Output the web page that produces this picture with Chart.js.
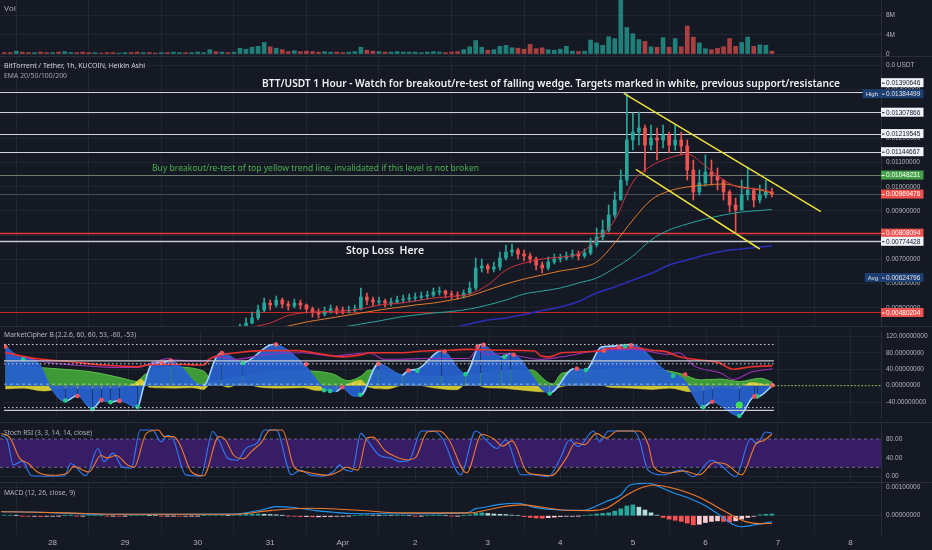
<!DOCTYPE html>
<html><head><meta charset="utf-8"><title>BTT/USDT 1h</title>
<script src="https://cdn.jsdelivr.net/npm/chart.js@4.4.1/dist/chart.umd.min.js"></script>
<style>
html,body{margin:0;padding:0;background:#2a2e39;overflow:hidden}
#wrap{position:relative;width:932px;height:550px;background:#2a2e39;overflow:hidden}
canvas{position:absolute;left:0;display:block}
</style></head><body>
<div id="wrap">
<canvas id="cVol" style="top:0px"></canvas>
<canvas id="cPrice" style="top:57px"></canvas>
<canvas id="cMC" style="top:327px"></canvas>
<canvas id="cStoch" style="top:423px"></canvas>
<canvas id="cMACD" style="top:483px"></canvas>
</div>
<script>
// ---------------- DATA (hours counted from 28 Mar 00:00) ----------------
const dayTickHours = [0,24,48,72,96,120,144,168,192,216,240,264];
const dayLabels = ['28','29','30','31','Apr','2','3','4','5','6','7','8'];
const volTicks = [0,4000000,8000000];

const barHours = [-16,-14,-12,-10,-8,-6,-4,-2,0,2,4,6,8,10,12,14,16,18,20,22,24,26,28,30,32,34,36,38,40,42,44,46,48,50,52,54,56,58,60,62,64,66,68,70,72,74,76,78,80,82,84,86,88,90,92,94,96,98,100,102,104,106,108,110,112,114,116,118,120,122,124,126,128,130,132,134,136,138,140,142,144,146,148,150,152,154,156,158,160,162,164,166,168,170,172,174,176,178,180,182,184,186,188,190,192,194,196,198,200,202,204,206,208,210,212,214,216,218,220,222,224,226,228,230,232,234,236,238];
const volume = [300000,300000,600000,400000,300000,300000,400000,300000,300000,400000,500000,300000,300000,400000,300000,300000,200000,300000,300000,200000,300000,300000,400000,300000,300000,200000,300000,300000,400000,300000,300000,300000,400000,300000,900000,500000,400000,300000,400000,
1200000,1000000,1400000,1600000,2400000,1500000,1200000,900000,500000,700000,
500000,600000,500000,400000,500000,400000,400000,300000,400000,500000,
1400000,800000,600000,500000,400000,400000,500000,400000,400000,400000,
300000,400000,500000,400000,300000,400000,500000,900000,1500000,2800000,
1400000,800000,900000,1600000,1800000,1300000,1200000,1000000,2000000,1100000,
1300000,900000,800000,1000000,1600000,600000,500000,600000,2900000,2300000,
1800000,3600000,3200000,11500000,5500000,4200000,3000000,2600000,1500000,1400000,
3400000,1400000,3200000,1500000,5800000,3500000,2300000,1100000,900000,1200000,
1500000,3200000,1600000,2400000,3500000,1600000,1900000,1800000,600000];
const earlyVolUp = [0,0,1,0,0,1,0,0,1,0,1,1,0,0,0,1,0,0,0,1,1,0,0,1,0,0,1,0,1,1,0,1,1,1,1,0,1,0,1];

const candleHours = [62,64,66,68,70,72,74,76,78,80,82,84,86,88,90,92,94,96,98,100,102,104,106,108,110,112,114,116,118,120,122,124,126,128,130,132,134,136,138,140,142,144,146,148,150,152,154,156,158,160,162,164,166,168,170,172,174,176,178,180,182,184,186,188,190,192,194,196,198,200,202,204,206,208,210,212,214,216,218,220,222,224,226,228,230,232,234,236,238];
const candleOpen = [0.004161,0.004244,0.004368,0.004575,0.004905,0.005194,0.005112,0.005318,0.005153,0.005071,0.005194,0.005112,0.004947,0.004823,0.004740,0.004864,0.004947,0.004905,0.004864,0.004905,0.004947,0.005442,0.005318,0.005236,0.005277,0.005194,0.005236,0.005318,0.005360,0.005401,0.005442,0.005484,0.005525,0.005649,0.005690,0.005566,0.005525,0.005484,0.005608,0.005814,0.006641,0.006723,0.006599,0.006682,0.007054,0.007302,0.007384,0.007219,0.007137,0.007013,0.006765,0.006641,0.006889,0.007013,0.007054,0.007137,0.007219,0.007137,0.007260,0.007591,0.007922,0.008211,0.008831,0.009450,0.010277,0.011930,0.012260,0.012426,0.011723,0.012012,0.011930,0.012136,0.011723,0.011930,0.011682,0.010690,0.009781,0.010153,0.010607,0.010442,0.010277,0.009781,0.009244,0.009037,0.009657,0.009864,0.009450,0.009657,0.009781];
const candleHigh = [0.004327,0.004575,0.004823,0.005112,0.005401,0.005318,0.005484,0.005401,0.005277,0.005360,0.005318,0.005153,0.005029,0.004947,0.005029,0.005112,0.005071,0.005029,0.005071,0.005112,0.005814,0.005608,0.005442,0.005442,0.005360,0.005401,0.005484,0.005525,0.005566,0.005608,0.005649,0.005690,0.005814,0.005856,0.005732,0.005690,0.005649,0.005732,0.006062,0.007054,0.007013,0.006806,0.006889,0.007302,0.007591,0.007632,0.007467,0.007384,0.007260,0.007095,0.006889,0.007095,0.007219,0.007219,0.007302,0.007384,0.007343,0.007426,0.007880,0.008293,0.008624,0.009244,0.009781,0.010690,0.013845,0.013045,0.013087,0.012549,0.012549,0.012426,0.012549,0.012260,0.012549,0.012260,0.011930,0.011103,0.010690,0.011310,0.011103,0.010773,0.010277,0.009864,0.009533,0.010277,0.010814,0.009946,0.010070,0.010277,0.009946];
const candleLow = [0.004161,0.004244,0.004327,0.004492,0.004823,0.004905,0.005029,0.004988,0.004905,0.004988,0.004947,0.004781,0.004616,0.004575,0.004657,0.004781,0.004740,0.004740,0.004781,0.004823,0.004905,0.005112,0.005071,0.005112,0.005029,0.005071,0.005153,0.005194,0.005236,0.005277,0.005318,0.005360,0.005442,0.005525,0.005401,0.005360,0.005360,0.005401,0.005525,0.005732,0.006475,0.006434,0.006475,0.006558,0.006971,0.007137,0.007013,0.006930,0.006847,0.006558,0.006434,0.006558,0.006806,0.006889,0.006971,0.007054,0.006971,0.007054,0.007178,0.007508,0.007798,0.008128,0.008707,0.009450,0.010070,0.011516,0.011723,0.010607,0.011516,0.011103,0.011599,0.011392,0.011516,0.011310,0.010277,0.009450,0.009657,0.010029,0.010070,0.009864,0.009450,0.008955,0.008087,0.009037,0.009450,0.009161,0.009326,0.009533,0.009574];
const candleClose = [0.004244,0.004368,0.004575,0.004905,0.005194,0.005112,0.005318,0.005153,0.005071,0.005194,0.005112,0.004947,0.004823,0.004740,0.004864,0.004947,0.004905,0.004864,0.004905,0.004947,0.005442,0.005318,0.005236,0.005277,0.005194,0.005236,0.005318,0.005360,0.005401,0.005442,0.005484,0.005525,0.005649,0.005690,0.005566,0.005525,0.005484,0.005608,0.005814,0.006641,0.006723,0.006599,0.006682,0.007054,0.007302,0.007384,0.007219,0.007137,0.007013,0.006765,0.006641,0.006889,0.007013,0.007054,0.007137,0.007219,0.007137,0.007260,0.007591,0.007922,0.008211,0.008831,0.009450,0.010277,0.011930,0.012260,0.012426,0.011723,0.012012,0.011930,0.012136,0.011723,0.011930,0.011682,0.010690,0.009781,0.010153,0.010607,0.010442,0.010277,0.009781,0.009244,0.009037,0.009657,0.009864,0.009450,0.009657,0.009781,0.009695];

const emaHours = [60,66,72,78,84,90,96,102,108,114,120,126,132,138,144,150,156,162,168,174,180,186,192,198,204,210,216,222,228,234,238];
const ema20 = [0.004079,0.004203,0.004368,0.004678,0.004802,0.004843,0.004864,0.004947,0.005112,0.005174,0.005277,0.005401,0.005463,0.005566,0.005938,0.006558,0.006847,0.007013,0.007095,0.007219,0.007798,0.008624,0.010194,0.010855,0.011186,0.011351,0.010855,0.010277,0.009946,0.009905,0.009781];
const ema50 = [0.003872,0.003955,0.004079,0.004244,0.004409,0.004533,0.004657,0.004781,0.004905,0.005009,0.005112,0.005194,0.005318,0.005484,0.005732,0.005980,0.006186,0.006351,0.006517,0.006641,0.006889,0.007674,0.008624,0.009450,0.009822,0.009988,0.010070,0.010112,0.009988,0.009864,0.009740];
const ema100 = [0.003459,0.003583,0.003748,0.003872,0.003996,0.004120,0.004203,0.004327,0.004451,0.004595,0.004699,0.004781,0.004843,0.004947,0.005112,0.005318,0.005566,0.005690,0.005814,0.006021,0.006227,0.006641,0.007137,0.007798,0.008211,0.008459,0.008665,0.008831,0.008955,0.009017,0.009058];
const ema200 = [0.002633,0.002757,0.002881,0.003004,0.003128,0.003252,0.003376,0.003500,0.003624,0.003748,0.003872,0.003996,0.004161,0.004327,0.004492,0.004575,0.004719,0.004885,0.005029,0.005256,0.005608,0.005856,0.006145,0.006413,0.006765,0.006971,0.007178,0.007343,0.007426,0.007508,0.007550];

const levelValues = [0.01390646,0.01307866,0.01219545,0.01144667,0.01048231,0.00969476,0.00808094,0.00774428,0.00480204];
const highValue = 0.01384499;
const avgValue = 0.00624796;
const wedgeTopH = [189,254.2];
const wedgeTopP = [0.013860,0.008967];
const wedgeLowH = [193,234];
const wedgeLowP = [0.010719,0.007426];

const mcWaveH = [-17,-13,-6,-2,3,7,12,15,18,21,27,29,32,35,38,42,46,49,53,55,62,72,82,88,90,93,95,99,101,107,115,117,120,128,136,141,148,151,164,172,176,181,185,191,203,208,210,215,218,227,232,233,238];
const mcWave = [96,72,55,-3,-38,-24,-56,-36,-40,-36,-52,-3,56,57,61,41,8,0,67,79,56,100,53,0,-11,-14,-5,-25,-25,53,26,37,40,85,28,100,70,78,-18,41,38,93,96,100,33,18,0,-52,-39,-73,-27,-27,0];
const mcMfiH = [-17,-8,2,12,22,27,29,39,49,52,60,69,82,92,97,101,104,115,125,137,148,158,163,165,168,181,194,203,208,214,221,227,234,238];
const mcMfi = [48,45,40,33,18,10,25,45,35,10,20,32,36,28,12,22,38,26,22,26,36,38,10,4,30,38,40,36,28,14,16,10,18,8];
const mcYellowH = [-17,-11,-4,2,12,21,26,28,31,39,45,49,52,57,62,67,75,82,87,93,97,101,104,110,117,125,133,137,143,148,155,162,168,173,179,184,191,198,204,211,214,221,226,231,236,238];
const mcYellow = [-8,-6,-13,-6,-7,-4,5,16,-4,-6,-5,-9,10,-4,8,-3,-6,-5,-12,-10,4,14,-4,-8,5,-5,-10,8,-5,-6,-11,-15,-2,4,8,-4,-6,-9,-6,-15,-12,-5,-8,8,2,0];
const mcRedH = [-17,-14,-7,5,16,27,30,39,49,51,60,69,80,87,95,102,104,115,122,131,137,148,159,161,164,168,181,183,192,198,203,207,212,220,225,231,238];
const mcRed = [80,76,66,58,50,46,50,52,50,65,80,85,85,78,70,76,80,80,84,86,88,86,84,72,70,80,84,90,92,86,82,70,64,56,40,46,48];
const mcPurpleH = [-17,-11,-4,6,16,27,32,37,39,49,53,60,69,82,92,100,104,109,115,122,137,140,143,148,161,168,181,192,198,203,207,212,221,225,231,238];
const mcPurple = [82,70,58,50,45,44,55,66,62,60,70,64,75,80,72,78,80,64,64,66,66,88,76,78,64,70,86,88,82,76,80,48,30,15,33,41];
const mcRedDotH = [-17,7,15,21,35,38,55,73,83,95,107,117,129,140,142,152,173,182,187,191,209,218,232,238];
const mcRedDotV = [95,-25,-35,-37,56,61,79,100,52,-4,53,37,83,95,99,75,41,85,94,98,27,-39,-26,1];
const mcGreenDotH = [-11,3,12,18,27,62,89,91,101,120,136,149,164,176,189,205,215,227,233];
const mcGreenDotV = [64,-36,-57,-40,-51,55,-11,-13,-22,36,28,70,-19,38,96,24,-52,-73,-26];
const mcBigDotH = [227];
const mcBigDotV = [-47];

const stochKH = [-17,-15,-13,-10,-7,-1,4,6,11,15,17,20,23,26,29,33,36,38,40,44,49,53,55,58,61,64,68,70,74,79,82,85,89,93,95,96,99,102,104,108,112,115,118,122,126,129,135,140,144,147,150,155,159,164,168,171,174,179,181,184,192,194,197,202,208,212,218,221,226,231,233,236,238];
const stochK = [88,78,25,33,2,1,2,28,2,60,32,50,21,18,99,99,74,88,78,4,1,96,78,39,35,60,74,99,99,4,14,4,1,11,25,18,11,92,78,46,39,32,35,97,97,81,4,97,74,60,78,4,4,0,39,78,64,97,74,97,97,81,14,4,14,0,35,25,0,81,70,95,92];
const stochDH = [-17,-14,-11,-8,-5,0,5,7,12,16,18,21,25,27,31,35,37,40,42,46,50,55,57,60,63,66,69,72,76,80,84,87,91,95,97,101,104,106,110,113,117,120,124,128,131,137,142,146,149,152,157,161,165,170,173,176,180,183,187,194,197,199,204,209,214,219,223,228,233,235,238];
const stochD = [92,82,40,28,10,3,8,22,10,45,40,45,24,20,92,99,85,85,70,10,2,85,80,45,38,55,72,99,99,20,10,6,3,12,20,14,82,84,55,44,36,40,95,97,80,8,90,80,65,76,10,4,2,40,72,68,92,82,97,97,70,20,8,12,4,30,26,4,72,76,90];

const macdH = [-17,-7,5,16,38,60,69,74,79,87,93,98,115,137,140,142,148,154,159,168,176,179,183,188,191,197,201,206,211,216,221,225,228,232,238];
const macdLine = [0.00014,0.00013,0.00008,0.00005,0.00005,0.00006,0.00020,0.00032,0.00030,0.00018,0.00012,0.00008,0.00007,0.00010,0.00025,0.00028,0.00040,0.00044,0.00030,0.00020,0.00019,0.00030,0.00049,0.00073,0.00108,0.00114,0.00100,0.00078,0.00060,0.00035,0.00000,-0.00030,-0.00039,-0.00033,-0.00021];
const signalH = [-17,5,20,60,72,84,100,115,138,148,155,162,170,178,183,190,194,199,204,210,215,220,225,229,234,238];
const signalLine = [0.00014,0.00010,0.00005,0.00005,0.00018,0.00026,0.00020,0.00010,0.00010,0.00030,0.00038,0.00030,0.00019,0.00018,0.00025,0.00073,0.00095,0.00108,0.00100,0.00082,0.00060,0.00030,0.00000,-0.00020,-0.00028,-0.00027];
const macdHist = [0.00002,0.00002,0.00001,-0.00001,-0.00002,-0.00002,-0.00003,-0.00002,-0.00002,-0.00001,0.00001,0.00001,-0.00001,-0.00001,0,0.00001,0.00001,-0.00001,-0.00001,-0.00002,-0.00001,0,0.00002,0.00002,0.00001,0,-0.00001,-0.00001,-0.00001,-0.00002,-0.00002,-0.00001,-0.00001,0.00001,0.00002,0.00002,0.00002,0.00001,0.00002,
0.00004,0.00005,0.00006,0.00006,0.00005,0.00004,0.00003,0.00001,-0.00001,-0.00002,
-0.00003,-0.00003,-0.00004,-0.00004,-0.00003,-0.00003,-0.00002,-0.00002,-0.00001,0,
0.00003,0.00003,0.00002,0.00001,0.00001,0,0.00001,0.00001,0,-0.00001,
-0.00001,0,0.00001,0.00001,0,-0.00001,-0.00001,0.00001,0.00003,0.00008,
0.00010,0.00008,0.00006,0.00005,0.00004,0.00002,0,-0.00003,-0.00006,-0.00008,
-0.00009,-0.00007,-0.00005,-0.00003,-0.00002,-0.00002,-0.00001,0,0.00003,0.00006,
0.00008,0.00010,0.00016,0.00024,0.00034,0.00038,0.00030,0.00020,0.00010,0.00002,
-0.00006,-0.00012,-0.00016,-0.00020,-0.00026,-0.00032,-0.00030,-0.00024,-0.00020,-0.00018,
-0.00020,-0.00022,-0.00018,-0.00012,-0.00006,-0.00002,0.00003,0.00005,0.00006];

const TITLE = 'BTT/USDT 1 Hour - Watch for breakout/re-test of falling wedge. Targets marked in white, previous support/resistance';
const BUY_NOTE = 'Buy breakout/re-test of top yellow trend line, invalidated if this level is not broken';
const STOP_NOTE = 'Stop Loss  Here';

// ---------------- STYLE / LAYOUT ----------------
const AXFONT = '"Liberation Sans", "DejaVu Sans", sans-serif';
const TXFONT = '"Noto Sans", "Liberation Sans", sans-serif';
const BG = '#151924', GRID = 'rgba(60,64,78,0.32)', SEP = '#2a2e39', TXT = '#b2b5be';
const X_MIN = -17.4, X_MAX = 274.1;
const UP = '#26a69a', DN = '#ef5350';
Chart.defaults.font.family = AXFONT;

const pts = (xs, ys) => xs.map((x, i) => ({x: x, y: ys[i]}));

function fitText(ctx, text, x, y, size, weight, color, targetW, family) {
  ctx.save();
  ctx.font = weight + ' ' + size + 'px ' + (family || TXFONT);
  const w = ctx.measureText(text).width;
  const sx = targetW ? targetW / w : 1;
  ctx.translate(x, y); ctx.scale(sx, 1);
  ctx.fillStyle = color; ctx.textBaseline = 'middle'; ctx.textAlign = 'left';
  ctx.fillText(text, 0, 0);
  ctx.restore();
}
function hline(ctx, x0, x1, y, color, w, dash) {
  ctx.save(); ctx.beginPath(); ctx.strokeStyle = color; ctx.lineWidth = w;
  ctx.setLineDash(dash || []); ctx.moveTo(x0, y); ctx.lineTo(x1, y); ctx.stroke(); ctx.restore();
}
function axisBox(ctx, x, y, text, bg, fg) {
  ctx.save();
  ctx.fillStyle = bg; ctx.fillRect(x, y - 4.5, 42.5, 9);
  ctx.strokeStyle = fg; ctx.lineWidth = 1; ctx.beginPath(); ctx.moveTo(x + 1, y + 0.5); ctx.lineTo(x + 3.5, y + 0.5); ctx.stroke();
  ctx.fillStyle = fg; ctx.font = '6.5px ' + AXFONT; ctx.textBaseline = 'middle'; ctx.textAlign = 'left';
  ctx.fillText(text, x + 5, y + 0.5);
  ctx.restore();
}
function tagBox(ctx, xRight, y, text, bg, fg) {
  ctx.save();
  ctx.font = '6px ' + AXFONT;
  const w = ctx.measureText(text).width + 6;
  ctx.fillStyle = bg; ctx.fillRect(xRight - w, y - 4.5, w, 9);
  ctx.fillStyle = fg; ctx.textBaseline = 'middle'; ctx.textAlign = 'left';
  ctx.fillText(text, xRight - w + 3, y + 0.5);
  ctx.restore();
}

const bgPlugin = {id: 'bg', beforeDraw(c) { const ctx = c.ctx; ctx.save(); ctx.fillStyle = BG; ctx.fillRect(0, 0, c.width, c.height); ctx.restore(); }};

function xAxis(show) {
  return {
    type: 'linear', min: X_MIN, max: X_MAX, offset: false,
    grid: {color: GRID, drawTicks: false, lineWidth: 1},
    border: {display: false},
    ticks: {display: show, color: TXT, font: {size: 8, family: AXFONT}, padding: 4, maxRotation: 0, autoSkip: false,
      callback: (v) => { const i = dayTickHours.indexOf(v); return i < 0 ? '' : dayLabels[i]; }},
    afterBuildTicks: (s) => { s.ticks = dayTickHours.map(v => ({value: v})); },
    afterFit: (s) => { s.height = show ? 16 : 0; s.paddingLeft = 0; s.paddingRight = 0; s.paddingTop = 0; s.paddingBottom = 0; }
  };
}
function yAxis(min, max, step, fmt, fixedTicks) {
  const ax = {
    position: 'right', min: min, max: max,
    grid: {color: GRID, drawTicks: false, lineWidth: 1},
    border: {display: true, color: SEP, width: 1},
    ticks: {stepSize: step, includeBounds: false, color: TXT, font: {size: 6.5, family: AXFONT}, padding: 5, callback: fmt},
    afterFit: (s) => { s.width = 51; s.paddingTop = 0; s.paddingBottom = 0; s.paddingLeft = 0; s.paddingRight = 0; }
  };
  if (fixedTicks) ax.afterBuildTicks = (s) => { s.ticks = fixedTicks.map(v => ({value: v})); };
  return ax;
}
function baseOptions(y, showX) {
  return {
    responsive: false, animation: false, events: [],
    layout: {padding: 0},
    plugins: {legend: {display: false}, tooltip: {enabled: false}},
    scales: {x: xAxis(showX), y: y}
  };
}
function mk(id, h, cfg) {
  const c = document.getElementById(id);
  c.width = 932; c.height = h; c.style.width = '932px'; c.style.height = h + 'px';
  return new Chart(c, cfg);
}
const lineDS = (data, color, w, order, extra) => Object.assign({type: 'line', data: data, borderColor: color, borderWidth: w, pointRadius: 0, cubicInterpolationMode: 'monotone', fill: false, order: order, clip: 0}, extra || {});

// ---------------- VOLUME ----------------
const candleUp = candleHours.map((h, i) => candleClose[i] >= candleOpen[i]);
const volColors = barHours.map((h, i) => {
  const up = i < earlyVolUp.length ? earlyVolUp[i] === 1 : candleUp[i - earlyVolUp.length];
  return up ? 'rgba(38,166,154,0.72)' : 'rgba(239,83,80,0.68)';
});
mk('cVol', 56, {
  type: 'bar',
  data: {datasets: [{type: 'bar', data: pts(barHours, volume), backgroundColor: volColors, barThickness: 4, grouped: false}]},
  options: baseOptions(yAxis(-410000, 11190000, 4000000, v => v === 0 ? '0' : Math.round(v / 1000000) + 'M', volTicks), false),
  plugins: [bgPlugin, {id: 'volDeco', afterDraw(c) { fitText(c.ctx, 'Vol', 4, 9, 7, '400', '#a3a6af', 12); }}]
});

// ---------------- PRICE ----------------
const levelStyle = [
  {c: '#d1d4dc', w: 1.2, bg: '#f0f3fa', fg: '#131722', dy: -9.5},
  {c: '#d1d4dc', w: 1.2, bg: '#f0f3fa', fg: '#131722'},
  {c: '#d1d4dc', w: 1.2, bg: '#f0f3fa', fg: '#131722'},
  {c: '#d1d4dc', w: 1.2, bg: '#f0f3fa', fg: '#131722'},
  {c: '#6f7d70', w: 1, bg: '#43a047', fg: '#ffffff'},
  {c: '#4a4e5a', w: 1, bg: '#f0504a', fg: '#ffffff'},
  {c: '#e53935', w: 1.3, bg: '#ef5350', fg: '#ffffff'},
  {c: '#c8cad0', w: 1.6, bg: '#f0f3fa', fg: '#131722'},
  {c: '#c62828', w: 1, bg: '#ef5350', fg: '#ffffff'}
];
const pricePlugin = {
  id: 'priceDeco',
  beforeDatasetsDraw(c) {
    const {ctx, chartArea: a, scales: {y}} = c;
    levelValues.forEach((v, i) => { const st = levelStyle[i]; hline(ctx, a.left, a.right, Math.round(y.getPixelForValue(v)) + 0.5, st.c, st.w); });
  },
  afterDraw(c) {
    const {ctx, chartArea: a, scales: {x, y}} = c;
    fitText(ctx, 'BitTorrent / Tether, 1h, KUCOIN, Heikin Ashi', 4, 9, 7, '400', '#d1d4dc', 141);
    fitText(ctx, 'EMA 20/50/100/200', 4, 19, 7, '400', '#a3a6af', 63);
    fitText(ctx, '0.0 USDT', a.right + 5, 8, 6.5, '400', TXT, 0, AXFONT);
    fitText(ctx, TITLE, x.getPixelForValue(69.3), y.getPixelForValue(0.014231), 10.8, '600', '#eef0f3', 578);
    fitText(ctx, BUY_NOTE, x.getPixelForValue(32.9), y.getPixelForValue(0.010731), 8, '400', '#4caf50', 327);
    fitText(ctx, STOP_NOTE, x.getPixelForValue(97.1), y.getPixelForValue(0.007355), 11, '600', '#eef0f3', 78);
    levelValues.forEach((v, i) => { const st = levelStyle[i]; axisBox(ctx, a.right, y.getPixelForValue(v) + (st.dy || 0), v.toFixed(8), st.bg, st.fg); });
    const yh = y.getPixelForValue(highValue);
    tagBox(ctx, a.right, yh, 'High', '#1d3e70', '#e0e3eb');
    axisBox(ctx, a.right, yh, highValue.toFixed(8), '#1d3e70', '#e0e3eb');
    const ya = y.getPixelForValue(avgValue);
    tagBox(ctx, a.right, ya, 'Avg', '#1d3e70', '#e0e3eb');
    axisBox(ctx, a.right, ya, avgValue.toFixed(8), '#1d3e70', '#e0e3eb');
  }
};
const candleColor = candleUp.map(u => u ? UP : DN);
mk('cPrice', 269, {
  type: 'line',
  data: {datasets: [
    lineDS(pts(wedgeTopH, wedgeTopP), '#ece23a', 1.5, 0, {cubicInterpolationMode: 'default', tension: 0}),
    lineDS(pts(wedgeLowH, wedgeLowP), '#ece23a', 1.5, 0, {cubicInterpolationMode: 'default', tension: 0}),
    lineDS(pts(emaHours, ema20), '#cf3341', 1, 1),
    lineDS(pts(emaHours, ema50), '#e07b2a', 1, 1),
    lineDS(pts(emaHours, ema100), '#26a69a', 1, 1),
    lineDS(pts(emaHours, ema200), '#2b2fb8', 1.5, 1),
    {type: 'bar', data: candleHours.map((h, i) => ({x: h, y: [Math.min(candleOpen[i], candleClose[i]), Math.max(candleOpen[i], candleClose[i])]})), backgroundColor: candleColor, barThickness: 3, grouped: false, minBarLength: 1, order: 2},
    {type: 'bar', data: candleHours.map((h, i) => ({x: h, y: [candleLow[i], candleHigh[i]]})), backgroundColor: candleColor, barThickness: 1, grouped: false, order: 3}
  ]},
  options: baseOptions(yAxis(0.004244, 0.015360, 0.001, v => v > 0.0145 ? '' : v.toFixed(8)), false),
  plugins: [bgPlugin, pricePlugin]
});

// ---------------- MARKET CIPHER B ----------------
const mcLastHour = 238.5;
const mcPlugin = {
  id: 'mcDeco',
  afterDatasetsDraw(c) {
    const {ctx, chartArea: a, scales: {x, y}} = c;
    const xr = x.getPixelForValue(mcLastHour);
    hline(ctx, a.left, xr, y.getPixelForValue(100), '#d1d4dc', 1, [1.5, 2.5]);
    hline(ctx, a.left, xr, y.getPixelForValue(60), '#c8cad0', 1.3);
    hline(ctx, a.left, xr, y.getPixelForValue(53), '#d1d4dc', 1, [1.5, 2.5]);
    hline(ctx, a.left, xr, y.getPixelForValue(-53), '#d1d4dc', 1, [1.5, 2.5]);
    hline(ctx, a.left, xr, y.getPixelForValue(-60), '#c8cad0', 1.3);
    hline(ctx, a.left, xr, y.getPixelForValue(0) - 1.5, 'rgba(255,255,255,0.5)', 1, [3, 3]);
    hline(ctx, xr, a.right, y.getPixelForValue(0), '#a5d64c', 1, [1.5, 2]);
  },
  afterDraw(c) { fitText(c.ctx, 'MarketCipher B (2.2.6, 60, 60, 53, -60, -53)', 4, 7.5, 7, '400', '#b2b5be', 132); }
};
mk('cMC', 95, {
  type: 'line',
  data: {datasets: [
    {type: 'line', data: pts(mcBigDotH, mcBigDotV), showLine: false, pointRadius: 3.5, pointBackgroundColor: '#3ee04f', pointBorderWidth: 0, order: 0},
    {type: 'line', data: pts(mcRedDotH, mcRedDotV), showLine: false, pointRadius: 2.3, pointBackgroundColor: '#f0525a', pointBorderWidth: 0, order: 0},
    {type: 'line', data: pts(mcGreenDotH, mcGreenDotV), showLine: false, pointRadius: 2.3, pointBackgroundColor: '#22c98b', pointBorderWidth: 0, order: 0},
    lineDS(pts(mcRedH, mcRed), '#e8302c', 1.6, 1),
    lineDS(pts(mcPurpleH, mcPurple), '#a030b8', 1.1, 2),
    lineDS(pts(mcWaveH, mcWave), '#2a64cc', 1.6, 3, {fill: 'origin', backgroundColor: 'rgba(38,96,204,0.95)',
      segment: {borderColor: s => s.p1.parsed.y > s.p0.parsed.y ? '#9fd2ff' : '#2a64cc'}}),
    lineDS(pts(mcYellowH, mcYellow), '#d9cd33', 0.5, 4, {fill: 'origin', backgroundColor: 'rgba(217,205,51,0.95)'}),
    lineDS(pts(mcMfiH, mcMfi), '#5cc24c', 1, 5, {fill: 'origin', backgroundColor: 'rgba(67,168,58,0.9)'})
  ]},
  options: baseOptions(yAxis(-78.44, 132.67, 40, v => v.toFixed(8)), false),
  plugins: [bgPlugin, mcPlugin]
});

// ---------------- STOCH RSI ----------------
const stochPlugin = {
  id: 'stDeco',
  beforeDatasetsDraw(c) {
    const {ctx, chartArea: a, scales: {y}} = c;
    const y80 = y.getPixelForValue(80), y20 = y.getPixelForValue(20);
    ctx.save(); ctx.fillStyle = '#371d66'; ctx.fillRect(a.left, y80, a.right - a.left, y20 - y80); ctx.restore();
    hline(ctx, a.left, a.right, y80, '#6f6a8a', 1, [3, 3]);
    hline(ctx, a.left, a.right, y20, '#6f6a8a', 1, [3, 3]);
  },
  afterDraw(c) { fitText(c.ctx, 'Stoch RSI (3, 3, 14, 14, close)', 4, 10, 7, '400', '#b2b5be', 88); }
};
mk('cStoch', 59, {
  type: 'line',
  data: {datasets: [
    lineDS(pts(stochDH, stochD), '#f07a2c', 1.1, 0),
    lineDS(pts(stochKH, stochK), '#2f7cf6', 1.1, 1)
  ]},
  options: baseOptions(yAxis(-11.25, 114.0, 40, v => v.toFixed(2)), false),
  plugins: [bgPlugin, stochPlugin]
});

// ---------------- MACD ----------------
const histColor = macdHist.map((v, i) => {
  const p = i > 0 ? macdHist[i - 1] : v;
  if (v >= 0) return v >= p ? '#26a69a' : '#b2dfdb';
  return v < p ? '#ff5252' : '#ffcdd2';
});
mk('cMACD', 67, {
  type: 'line',
  data: {datasets: [
    lineDS(pts(signalH, signalLine), '#f07a2c', 1.1, 0),
    lineDS(pts(macdH, macdLine), '#2196f3', 1.1, 1),
    {type: 'bar', data: pts(barHours, macdHist), backgroundColor: histColor, barThickness: 4, grouped: false, order: 2}
  ]},
  options: baseOptions(yAxis(-0.000644, 0.001151, 0.001, v => v.toFixed(8)), true),
  plugins: [bgPlugin, {id: 'macdDeco', afterDraw(c) { fitText(c.ctx, 'MACD (12, 26, close, 9)', 4, 10, 7, '400', '#b2b5be', 71); }}]
});
</script>
</body></html>
